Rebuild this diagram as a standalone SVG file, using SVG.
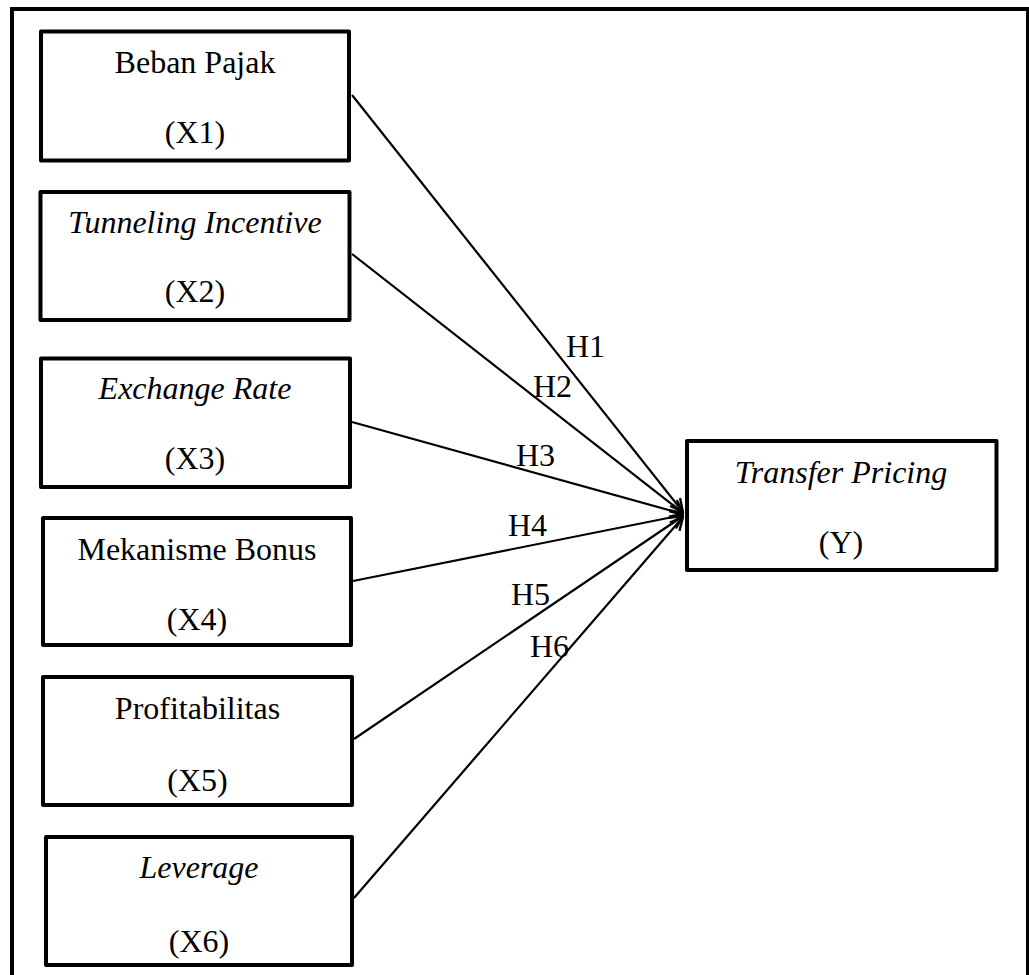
<svg xmlns="http://www.w3.org/2000/svg" width="1029" height="975" viewBox="0 0 1029 975">
<defs>
<style>
.box{fill:#fff;stroke:#000;stroke-width:4;stroke-linejoin:round}
.t{font-family:"Liberation Serif","Times New Roman",serif;font-size:32px;fill:#000;text-anchor:middle}
.i{font-style:italic}
.lbl{font-family:"Liberation Serif","Times New Roman",serif;font-size:32px;fill:#000}
.c{stroke:#000;stroke-width:2.2;fill:none;marker-end:url(#arr)}
</style>
<marker id="arr" viewBox="0 0 12 12" refX="11" refY="6" markerWidth="7" markerHeight="7" orient="auto" markerUnits="strokeWidth">
<path d="M1,1 L11,6 L1,11" fill="none" stroke="#000" stroke-width="1.8"/>
</marker>
</defs>
<rect width="1029" height="975" fill="#fff"/>
<rect x="12" y="9" width="1016" height="1000" fill="none" stroke="#000" stroke-width="4"/>
<g id="connectors">
<line class="c" x1="352" y1="95" x2="683" y2="512"/>
<line class="c" x1="352" y1="254" x2="683" y2="513"/>
<line class="c" x1="352" y1="422" x2="683" y2="514"/>
<line class="c" x1="353" y1="581" x2="683" y2="515"/>
<line class="c" x1="354" y1="739" x2="683" y2="516"/>
<line class="c" x1="354" y1="898" x2="683" y2="517"/>
</g>
<g id="labels">
<text class="lbl" x="566" y="357">H1</text>
<text class="lbl" x="533" y="397">H2</text>
<text class="lbl" x="516" y="466">H3</text>
<text class="lbl" x="508" y="536">H4</text>
<text class="lbl" x="511" y="605">H5</text>
<text class="lbl" x="530" y="657">H6</text>
</g>
<g id="x1">
<rect class="box" x="41" y="31.5" width="308" height="129"/>
<text class="t" x="195" y="73">Beban Pajak</text>
<text class="t" x="195" y="143">(X1)</text>
</g>
<g id="x2">
<rect class="box" x="40.5" y="192" width="309" height="128"/>
<text class="t i" x="195" y="233">Tunneling Incentive</text>
<text class="t" x="195" y="302">(X2)</text>
</g>
<g id="x3">
<rect class="box" x="41" y="358.5" width="309" height="128.5"/>
<text class="t i" x="195" y="399">Exchange Rate</text>
<text class="t" x="195" y="469">(X3)</text>
</g>
<g id="x4">
<rect class="box" x="43" y="518" width="308" height="127"/>
<text class="t" x="197" y="560">Mekanisme Bonus</text>
<text class="t" x="197" y="630">(X4)</text>
</g>
<g id="x5">
<rect class="box" x="43" y="677" width="309" height="128"/>
<text class="t" x="197.5" y="719">Profitabilitas</text>
<text class="t" x="197.5" y="791">(X5)</text>
</g>
<g id="x6">
<rect class="box" x="46" y="837" width="306" height="128"/>
<text class="t i" x="199" y="878">Leverage</text>
<text class="t" x="199" y="952">(X6)</text>
</g>
<g id="y">
<rect class="box" x="687" y="441" width="309.5" height="129"/>
<text class="t i" x="841" y="483">Transfer Pricing</text>
<text class="t" x="841" y="553">(Y)</text>
</g>
</svg>
